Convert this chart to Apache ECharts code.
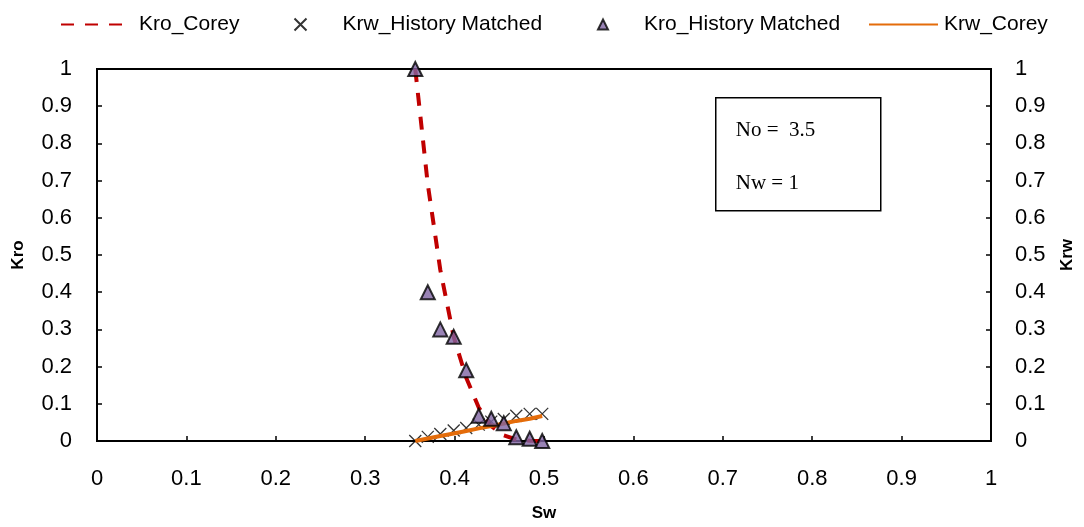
<!DOCTYPE html>
<html>
<head>
<meta charset="utf-8">
<script src="https://cdn.jsdelivr.net/npm/echarts@6/dist/echarts.min.js"></script>
<style>
  html, body { margin: 0; padding: 0; background: #fff; }
  #chart { width: 1084px; height: 527px; }
</style>
</head>
<body>
<div id="chart"></div>
<script>
// water saturation points (same Sw for all four series)
const sw = [0.356, 0.370, 0.384, 0.399, 0.413, 0.427, 0.441, 0.455, 0.469, 0.484, 0.498];
const kroCorey = [1.0, 0.69, 0.46, 0.28, 0.17, 0.09, 0.04, 0.015, 0.004, 0.0005, 0];
const krwCorey = [0, 0.0067, 0.0134, 0.020, 0.027, 0.034, 0.040, 0.047, 0.054, 0.060, 0.067];
const kroMatched = [1.0, 0.40, 0.30, 0.28, 0.19, 0.068, 0.06, 0.048, 0.01, 0.006, 0];
const krwMatched = [0, 0.011, 0.019, 0.028, 0.035, 0.044, 0.052, 0.059, 0.068, 0.073, 0.073];
const axisTicks = [0, 0.1, 0.2, 0.3, 0.4, 0.5, 0.6, 0.7, 0.8, 0.9, 1];

const pairs = ys => sw.map((x, i) => [x, ys[i]]);
const crossPath = 'path://M0,0L10,10M10,0L0,10';
const font = 'Liberation Sans';

const chart = echarts.init(document.getElementById('chart'));

const tickLabel = { fontFamily: font, fontSize: 22, color: '#000' };
const axisBase = {
  type: 'value', min: 0, max: 1, interval: 0.1,
  axisLine: { show: true, lineStyle: { color: '#000', width: 2 } },
  axisTick: { show: true, inside: true, length: 5, lineStyle: { color: '#000', width: 1.5 } },
  splitLine: { show: false },
  nameTextStyle: { fontFamily: font, fontSize: 17, fontWeight: 'bold', color: '#000' }
};

const legendText = pad => ({ fontFamily: font, fontSize: 21, color: '#000', padding: [0, 0, 0, pad] });
// line legends: hide the marker ECharts adds in the middle of the line
const noMarker = { opacity: 0, color: 'rgba(0,0,0,0)', borderWidth: 0 };

chart.setOption({
  animation: false,
  grid: {
    left: 97, right: 92, top: 69, bottom: 83,
    show: true, borderColor: '#000', borderWidth: 2
  },
  legend: [
    { data: ['Kro_Corey'], left: 55, top: 9, itemWidth: 68, itemHeight: 14, itemStyle: noMarker, textStyle: legendText(5) },
    { data: ['Krw_History Matched'], left: 287, top: 9, itemWidth: 12, itemHeight: 12, textStyle: legendText(31) },
    { data: ['Kro_History Matched'], left: 592, top: 9, itemWidth: 10, itemHeight: 10, textStyle: legendText(31) },
    { data: ['Krw_Corey'], left: 863, top: 9, itemWidth: 69, itemHeight: 14, itemStyle: noMarker, textStyle: legendText(1) }
  ],
  xAxis: Object.assign({}, axisBase, {
    name: 'Sw', nameLocation: 'middle', nameGap: 64,
    axisLabel: Object.assign({ margin: 27, formatter: v => String(axisTicks[Math.round(v * 10)]) }, tickLabel)
  }),
  yAxis: [
    Object.assign({}, axisBase, {
      position: 'left', name: 'Kro', nameLocation: 'middle', nameRotate: 90, nameGap: 70,
      axisLabel: Object.assign({ margin: 25 }, tickLabel)
    }),
    Object.assign({}, axisBase, {
      position: 'right', name: 'Krw', nameLocation: 'middle', nameRotate: 90, nameGap: 68,
      axisLabel: Object.assign({ margin: 24 }, tickLabel)
    })
  ],
  graphic: [
    {
      type: 'group', left: 715, top: 97,
      children: [
        { type: 'rect', shape: { x: 0, y: 0, width: 165, height: 113 },
          style: { fill: '#fff', stroke: '#000', lineWidth: 1.5 } },
        { type: 'text', left: 20, top: 22,
          style: { text: 'No =  3.5', font: '21px "Liberation Serif"', fill: '#000' } },
        { type: 'text', left: 20, top: 75,
          style: { text: 'Nw = 1', font: '21px "Liberation Serif"', fill: '#000' } }
      ]
    }
  ],
  series: [
    {
      name: 'Kro_Corey', type: 'line', data: pairs(kroCorey), symbol: 'none', z: 2,
      lineStyle: { color: '#c00000', width: 4, type: [13, 11] },
      itemStyle: { color: '#c00000' }
    },
    {
      name: 'Krw_History Matched', type: 'scatter', data: pairs(krwMatched), yAxisIndex: 1, z: 3,
      symbol: crossPath, symbolSize: 12,
      itemStyle: { color: 'none', borderColor: '#000', borderWidth: 1.3 }
    },
    {
      name: 'Krw_Corey', type: 'line', data: pairs(krwCorey), yAxisIndex: 1, symbol: 'none', z: 4,
      lineStyle: { color: '#e46c0a', width: 4 },
      itemStyle: { color: '#e46c0a' }
    },
    {
      name: 'Kro_History Matched', type: 'scatter', data: pairs(kroMatched), z: 5,
      symbol: 'triangle', symbolSize: 14,
      itemStyle: { color: '#8064a2', borderColor: '#000', borderWidth: 2 }
    }
  ]
});
</script>
</body>
</html>
